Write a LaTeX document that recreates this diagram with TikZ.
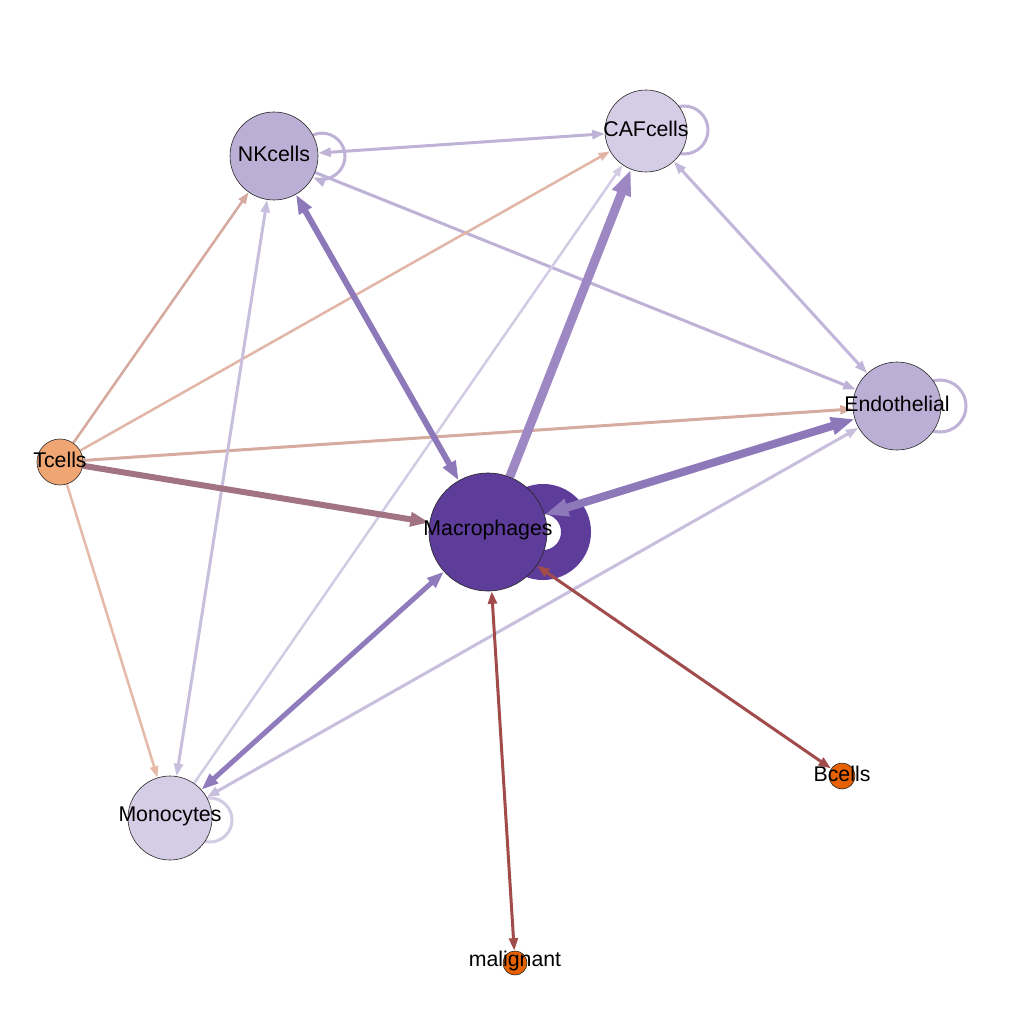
\documentclass[tikz,border=0pt]{standalone}
\usepackage{fontspec}
\setmainfont{Liberation Sans}
\usetikzlibrary{arrows.meta,backgrounds}
\definecolor{cNK}{HTML}{BCAFD6}
\definecolor{cCAF}{HTML}{D4CDE5}
\definecolor{cEndo}{HTML}{BCAFD6}
\definecolor{cMac}{HTML}{5E3C99}
\definecolor{cMono}{HTML}{D4CDE5}
\definecolor{cT}{HTML}{F0A673}
\definecolor{cOr}{HTML}{E66101}
\definecolor{eA}{HTML}{BFB2D7}
\definecolor{eB}{HTML}{C2B7DA}
\definecolor{eC}{HTML}{C8BEDD}
\definecolor{eD}{HTML}{D3CBE4}
\definecolor{eP1}{HTML}{8D78BA}
\definecolor{eP2}{HTML}{9D88C3}
\definecolor{eP3}{HTML}{907CBD}
\definecolor{tNK}{HTML}{D5A99D}
\definecolor{tCAF}{HTML}{E2B6A6}
\definecolor{tEndo}{HTML}{D8ABA0}
\definecolor{tMac}{HTML}{A27382}
\definecolor{tMono}{HTML}{E6BAA8}
\definecolor{eRed}{HTML}{A24B4B}
\begin{document}
\begin{tikzpicture}[x=1pt,y=-1pt,
  vtx/.style={circle,draw=black!85,line width=0.6pt,inner sep=0pt},
  lbl/.style={font=\fontsize{21.3}{23}\selectfont,text=black,inner sep=0pt,yshift=2pt},
  onearr/.style={arrows={-Triangle[length=6pt 2.2,width=4pt 1.6]}},
  twoarr/.style={arrows={Triangle[length=6pt 2.2,width=4pt 1.6]-Triangle[length=6pt 2.2,width=4pt 1.6]}}]
\useasboundingbox (0,0) rectangle (1024,1024);
% nodes
\node[vtx,minimum size=88pt,fill=cNK]   (NK)   at (274,156) {};
\node[vtx,minimum size=82pt,fill=cCAF]  (CAF)  at (646,131) {};
\node[vtx,minimum size=88pt,fill=cEndo] (Endo) at (897,406) {};
\node[vtx,minimum size=118pt,fill=cMac] (Mac)  at (488,532) {};
\node[vtx,minimum size=84pt,fill=cMono] (Mono) at (170,818) {};
\node[vtx,minimum size=46pt,fill=cT]    (T)    at (60,462) {};
\node[vtx,minimum size=26pt,fill=cOr]   (B)    at (842,776) {};
\node[vtx,minimum size=24pt,fill=cOr]   (Mal)  at (515,963) {};
% labels
\node[lbl] (NKt)   at (NK)   {NKcells};
\node[lbl] (CAFt)  at (CAF)  {CAFcells};
\node[lbl] (Endot) at (Endo) {Endothelial};
\node[lbl] (Mact)  at (Mac)  {Macrophages};
\node[lbl] (Monot) at (Mono) {Monocytes};
\node[lbl] (Tt)    at (T)    {Tcells};
\node[lbl] (Bt)    at (B)    {Bcells};
\node[lbl] (Malt)  at (Mal)  {malignant};
\begin{pgfonlayer}{background}
\fill[white] (0,0) rectangle (1024,1024);
% loops
\draw[line width=30pt,cMac] (Mac.center) ++(55,0) circle[radius=33];
\draw[line width=3pt,eA] (CAF.center) ++(38,-1) circle[radius=24];
\draw[line width=3pt,eA] (Endo.center) ++(43,0) circle[radius=26];
\draw[line width=3pt,eD] (Mono.center) ++(40,2) circle[radius=22];
\draw[onearr,line width=3pt,eA] (NK.center) ++(39,-21) arc[start angle=-113,end angle=113,radius=23];
% edges
\draw[twoarr,line width=3pt,eA] (NK) -- (CAF);
\draw[onearr,line width=3pt,eA] (NK) -- (Endo);
\draw[twoarr,line width=3pt,eB] (CAF) -- (Endo);
\draw[onearr,line width=2.5pt,tNK] (T) -- (NK);
\draw[onearr,line width=2.5pt,tCAF] (T) -- (CAF);
\draw[onearr,line width=3pt,tEndo] (T) -- (Endo);
\draw[onearr,line width=2.5pt,tMono] (T) -- (Mono);
\draw[twoarr,line width=3pt,eC] (Mono) -- (NK);
\draw[onearr,line width=2.5pt,eD] (Mono) -- (CAF);
\draw[twoarr,line width=3pt,eC] (Mono) -- (Endo);
\draw[onearr,line width=6pt,tMac] (T) -- (Mac);
\draw[twoarr,line width=6pt,eP1] (Mac) -- (NK);
\draw[onearr,line width=9pt,eP2] (Mac) -- (CAF);
\draw[twoarr,line width=8pt,eP1] (Mac) -- (Endo);
\draw[twoarr,line width=5pt,eP3] (Mono) -- (Mac);
\draw[twoarr,line width=3pt,eRed] (Mac) -- (B);
\draw[twoarr,line width=3pt,eRed] (Mac) -- (Mal);
\end{pgfonlayer}
\end{tikzpicture}
\end{document}
